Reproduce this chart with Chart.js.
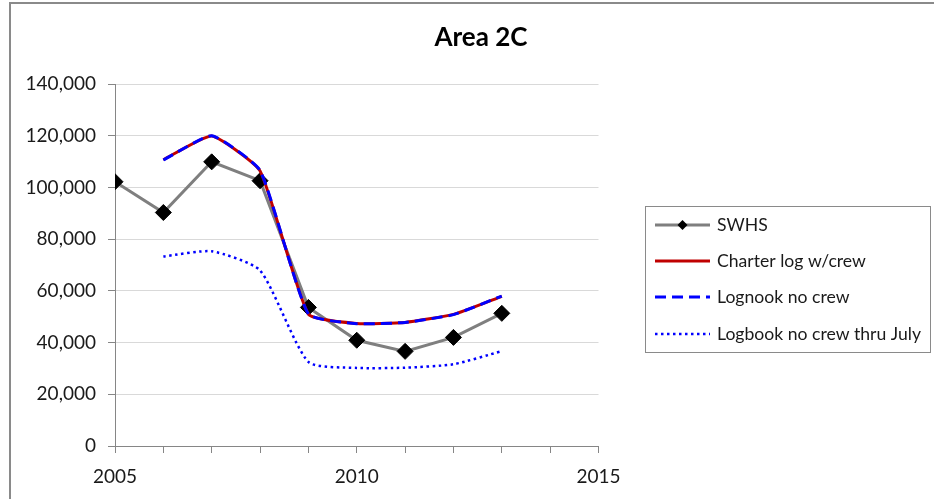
<!DOCTYPE html>
<html>
<head>
<meta charset="utf-8">
<script src="https://cdn.jsdelivr.net/npm/chart.js@4/dist/chart.umd.min.js"></script>
<style>
html,body{margin:0;padding:0;background:#fff;}
#wrap{width:934px;height:499px;position:relative;}
</style>
</head>
<body>
<div id="wrap"><canvas id="c" width="934" height="499"></canvas></div>
<script>
// ---- data ----
const chartTitle = "Area 2C";
const years = [2005, 2006, 2007, 2008, 2009, 2010, 2011, 2012, 2013];
const swhs = [102200, 90300, 109900, 102600, 53600, 40900, 36600, 42000, 51300];
const charterLogWithCrew = [null, 110700, 119900, 106400, 51000, 47400, 47800, 50900, 57900];
const lognookNoCrew = [null, 110600, 120000, 106600, 51000, 47300, 47800, 50800, 58000];
const logbookNoCrewThruJuly = [null, 73300, 75300, 67900, 32500, 30200, 30300, 31600, 36700];
const seriesNames = ["SWHS", "Charter log w/crew", "Lognook no crew", "Logbook no crew thru July"];
const xTickLabels = [2005, 2010, 2015];
const yTicks = [0, 20000, 40000, 60000, 80000, 100000, 120000, 140000];

const toPts = arr => years.map((y, i) => ({x: y, y: arr[i]}));

const FONT = "Lato";
const AXIS = "#868686";

const framePlugin = {
  id: 'frame',
  beforeDraw(chart) {
    const ctx = chart.ctx;
    ctx.save();
    ctx.fillStyle = '#fff';
    ctx.fillRect(0, 0, chart.width, chart.height);
    ctx.strokeStyle = '#8a8a8a';
    ctx.lineWidth = 2;
    ctx.beginPath();
    ctx.moveTo(10, chart.height + 5);
    ctx.lineTo(10, 3);
    ctx.lineTo(chart.width + 5, 3);
    ctx.stroke();
    ctx.restore();
  },
  afterDraw(chart) {
    const ctx = chart.ctx;
    ctx.save();
    // title
    ctx.fillStyle = '#000';
    ctx.font = "bold 26px " + FONT;
    ctx.textAlign = 'center';
    ctx.textBaseline = 'middle';
    ctx.fillText(chartTitle, 481, 38);
    // legend box
    ctx.strokeStyle = '#8a8a8a';
    ctx.lineWidth = 1;
    ctx.setLineDash([]);
    ctx.strokeRect(645.5, 206.5, 285, 146);
    const ys = [225, 261, 297, 334];
    chart.data.datasets.forEach((ds, i) => {
      const y = ys[i];
      ctx.save();
      ctx.strokeStyle = ds.borderColor;
      ctx.lineWidth = ds.borderWidth;
      ctx.setLineDash(ds.borderDash || []);
      ctx.beginPath();
      ctx.moveTo(655, y);
      ctx.lineTo(710, y);
      ctx.stroke();
      ctx.restore();
      if (ds.pointRadius > 0) {
        ctx.fillStyle = '#000';
        ctx.beginPath();
        const r = 5;
        ctx.moveTo(682.5, y - r);
        ctx.lineTo(682.5 + r, y);
        ctx.lineTo(682.5, y + r);
        ctx.lineTo(682.5 - r, y);
        ctx.closePath();
        ctx.fill();
      }
      ctx.fillStyle = '#1a1a1a';
      ctx.font = "17.6px " + FONT;
      ctx.textAlign = 'left';
      ctx.textBaseline = 'middle';
      ctx.fillText(ds.label, 717, y);
    });
    ctx.restore();
  }
};

new Chart(document.getElementById('c'), {
  type: 'line',
  data: {
    datasets: [
      {
        label: seriesNames[0], data: toPts(swhs),
        borderColor: '#7f7f7f', borderWidth: 3, tension: 0,
        pointStyle: 'rectRot', pointRadius: 8, pointBackgroundColor: '#000', pointBorderColor: '#000', pointBorderWidth: 1,
        order: 10
      },
      {
        label: seriesNames[1], data: toPts(charterLogWithCrew),
        borderColor: '#c00000', borderWidth: 3, tension: 0.15, pointRadius: 0, order: 3
      },
      {
        label: seriesNames[2], data: toPts(lognookNoCrew),
        borderColor: '#0000ff', borderWidth: 3, borderDash: [11, 6], tension: 0.15, pointRadius: 0, order: 2
      },
      {
        label: seriesNames[3], data: toPts(logbookNoCrewThruJuly),
        borderColor: '#0000ff', borderWidth: 2.5, borderDash: [2.5, 3.5], tension: 0.2, pointRadius: 0, order: 1
      }
    ]
  },
  options: {
    responsive: false,
    animation: false,
    devicePixelRatio: 1,
    layout: { padding: { left: 10, right: 335.5, top: 84, bottom: 0 } },
    plugins: { legend: { display: false }, title: { display: false }, tooltip: { enabled: false } },
    scales: {
      x: {
        type: 'linear', min: 2005, max: 2015,
        afterBuildTicks: s => { s.ticks = []; for (let v = 2005; v <= 2015; v++) s.ticks.push({value: v}); },
        ticks: {
          autoSkip: false, maxRotation: 0, padding: 12,
          color: '#1a1a1a', font: { family: FONT, size: 19 },
          callback: v => xTickLabels.includes(v) ? String(v) : ''
        },
        grid: { drawOnChartArea: false, drawTicks: true, tickLength: 7, color: AXIS, tickColor: AXIS },
        border: { color: AXIS, width: 1 },
        afterFit: s => { s.height = 53; }
      },
      y: {
        min: 0, max: 140000,
        afterBuildTicks: s => { s.ticks = yTicks.map(v => ({value: v})); },
        ticks: {
          padding: 12, color: '#1a1a1a', font: { family: FONT, size: 19 },
          callback: v => v.toLocaleString('en-US')
        },
        grid: { color: '#d9d9d9', tickLength: 7, tickColor: AXIS },
        border: { color: AXIS, width: 1 },
        afterFit: s => { s.width = 105; }
      }
    }
  },
  plugins: [framePlugin]
});
</script>
</body>
</html>
